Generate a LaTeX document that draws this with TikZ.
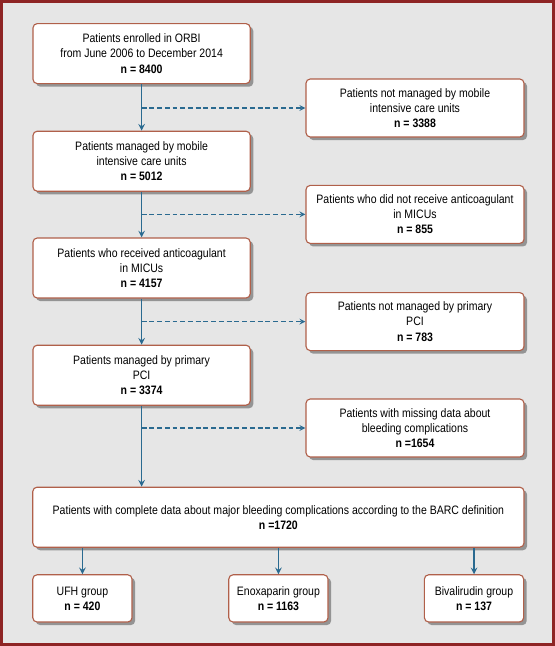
\documentclass[tikz,border=0pt]{standalone}
\usepackage{fontspec}
\setmainfont[FakeStretch=0.86]{Liberation Sans}
\usetikzlibrary{shadows}

\definecolor{panelgray}{HTML}{E6E6E6}
\definecolor{framered}{HTML}{8E2424}
\definecolor{boxred}{HTML}{B0604A}
\definecolor{arrowblue}{HTML}{2A6A90}

\begin{document}
\begin{tikzpicture}[>=stealth, line width=0.9pt,
                block/.style={rectangle, draw=boxred, line width=0.8pt, fill=white, rounded corners=3pt,
                              drop shadow={shadow xshift=2.2pt, shadow yshift=-2.2pt, fill=black!42, opacity=1},
                              minimum width=5.43cm, minimum height=1.5cm, align=center,
                              font=\fontsize{8.7}{10.7}\selectfont},
                sideblock/.style={block, minimum width=5.45cm, minimum height=1.45cm},
                groupblock/.style={block, minimum width=2.48cm, minimum height=1.18cm},
                flow/.style={draw=arrowblue, ->, line width=1.1pt},
                loss/.style={draw=arrowblue, ->, dash pattern=on 3.5pt off 2pt, line width=0.9pt}
            ]

            % Background and frame
            \fill[panelgray] (0,0) rectangle (13.875,-16.15);
            \draw[framered, line width=2pt] (0.035,-0.035) rectangle (13.84,-16.115);
            \useasboundingbox (0,0) rectangle (13.875,-16.15);

            % Main column
            \node[block] (enrolled) at (3.54,-1.34) {Patients enrolled in ORBI\\from June 2006 to December 2014\\\textbf{n = 8400}};
            \node[block] (micu) at (3.54,-4.03) {Patients managed by mobile\\intensive care units\\\textbf{n = 5012}};
            \node[block] (anticoag) at (3.54,-6.70) {Patients who received anticoagulant\\in MICUs\\\textbf{n = 4157}};
            \node[block] (pci) at (3.54,-9.38) {Patients managed by primary\\PCI\\\textbf{n = 3374}};

            % Excluded patients
            \node[sideblock] (nomicu) at (10.375,-2.70) {Patients not managed by mobile\\intensive care units\\\textbf{n = 3388}};
            \node[sideblock] (noanticoag) at (10.375,-5.36) {Patients who did not receive anticoagulant\\in MICUs\\\textbf{n = 855}};
            \node[sideblock] (nopci) at (10.375,-8.04) {Patients not managed by primary\\PCI\\\textbf{n = 783}};
            \node[sideblock] (missing) at (10.375,-10.70) {Patients with missing data about\\bleeding complications\\\textbf{n =1654}};

            % Final population
            \node[block, minimum width=12.28cm] (barc) at (6.96,-12.93) {Patients with complete data about major bleeding complications according to the BARC definition\\\textbf{n =1720}};

            % Groups
            \node[groupblock] (ufh) at (2.06,-14.96) {UFH group\\\textbf{n = 420}};
            \node[groupblock] (enox) at (6.96,-14.96) {Enoxaparin group\\\textbf{n = 1163}};
            \node[groupblock] (biva) at (11.85,-14.96) {Bivalirudin group\\\textbf{n = 137}};

            % Vertical flow
            \draw[flow] (enrolled) -- (micu);
            \draw[flow] (micu) -- (anticoag);
            \draw[flow] (anticoag) -- (pci);
            \draw[flow] (pci.south) -- (pci.south |- barc.north);

            % Dashed exits
            \draw[loss] (enrolled.south |- nomicu.west) -- (nomicu.west);
            \draw[loss] (micu.south |- noanticoag.west) -- (noanticoag.west);
            \draw[loss] (anticoag.south |- nopci.west) -- (nopci.west);
            \draw[loss] (pci.south |- missing.west) -- (missing.west);

            % Split into groups
            \draw[flow] (ufh.north |- barc.south) -- (ufh.north);
            \draw[flow] (enox.north |- barc.south) -- (enox.north);
            \draw[flow] (biva.north |- barc.south) -- (biva.north);

        \end{tikzpicture}
\end{document}
